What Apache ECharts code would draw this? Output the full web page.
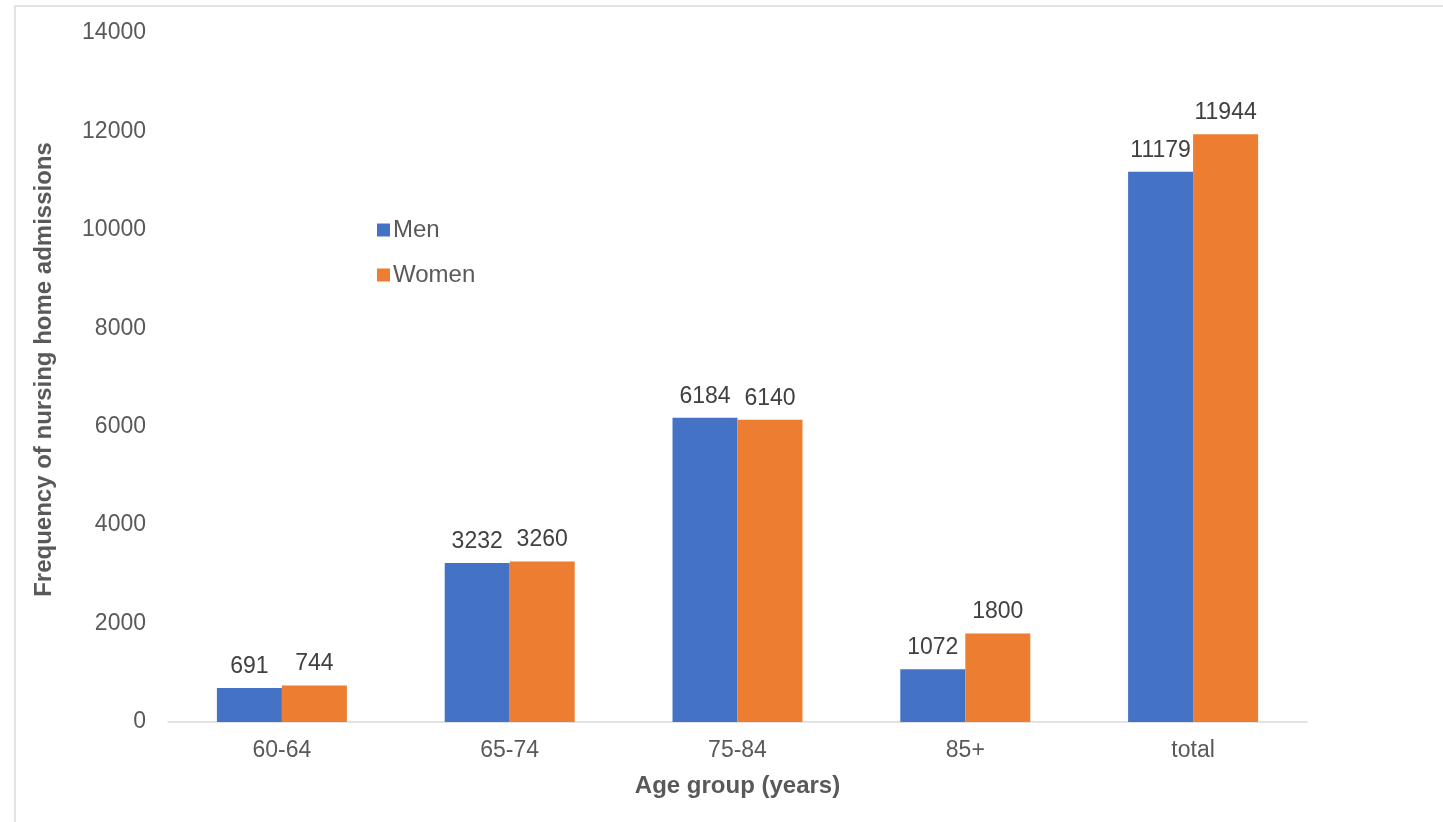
<!DOCTYPE html>
<html>
<head>
<meta charset="utf-8">
<script src="https://cdn.jsdelivr.net/npm/echarts@6/dist/echarts.min.js"></script>
<style>
html,body{margin:0;padding:0;background:#fff;}
#chart{width:1443px;height:822px;}
</style>
</head>
<body>
<div id="chart"></div>
<script>
const categories = ['60-64', '65-74', '75-84', '85+', 'total'];
const men = [691, 3232, 6184, 1072, 11179];
const women = [744, 3260, 6140, 1800, 11944];
const yTicks = [0, 2000, 4000, 6000, 8000, 10000, 12000, 14000];

const chart = echarts.init(document.getElementById('chart'));
const font = '"Liberation Sans", Arial, sans-serif';
const labelStyle = {show: true, position: 'top', distance: 10, color: '#404040', fontSize: 23, fontFamily: font};
chart.setOption({
  animation: false,
  textStyle: {fontFamily: font},
  graphic: [{
    type: 'rect', shape: {x: 15, y: 6, width: 1500, height: 900},
    style: {fill: 'none', stroke: '#d9d9d9', lineWidth: 1.5}, silent: true, z: -1
  }],
  grid: {left: 168, right: 136, top: 33, bottom: 100},
  legend: {
    orient: 'vertical', left: 372, top: 213, itemGap: 21,
    itemWidth: 13, itemHeight: 13, icon: 'rect',
    textStyle: {color: '#595959', fontSize: 24, fontFamily: font, padding: [0, 0, 0, -2]},
    data: ['Men', 'Women']
  },
  xAxis: {
    type: 'category', data: categories,
    name: 'Age group (years)', nameLocation: 'middle', nameGap: 52,
    nameTextStyle: {fontWeight: 'bold', fontSize: 24, color: '#595959', fontFamily: font},
    axisLine: {lineStyle: {color: '#d9d9d9', width: 1.5}},
    axisTick: {show: false},
    axisLabel: {color: '#595959', fontSize: 23, margin: 17, fontFamily: font}
  },
  yAxis: {
    type: 'value', min: yTicks[0], max: yTicks[yTicks.length - 1], interval: 2000,
    name: 'Frequency of nursing home admissions', nameLocation: 'middle', nameGap: 112,
    nameTextStyle: {fontWeight: 'bold', fontSize: 24, color: '#595959', fontFamily: font, padding: [0, 0, 0, 16]},
    axisLine: {show: false}, axisTick: {show: false},
    splitLine: {show: false},
    axisLabel: {color: '#595959', fontSize: 23, margin: 22, fontFamily: font, formatter: v => String(v)}
  },
  series: [
    {name: 'Men', type: 'bar', data: men, barWidth: 65, barGap: '0%',
     itemStyle: {color: '#4472c4'}, label: labelStyle},
    {name: 'Women', type: 'bar', data: women, barWidth: 65,
     itemStyle: {color: '#ed7d31'}, label: labelStyle}
  ]
});
</script>
</body>
</html>
